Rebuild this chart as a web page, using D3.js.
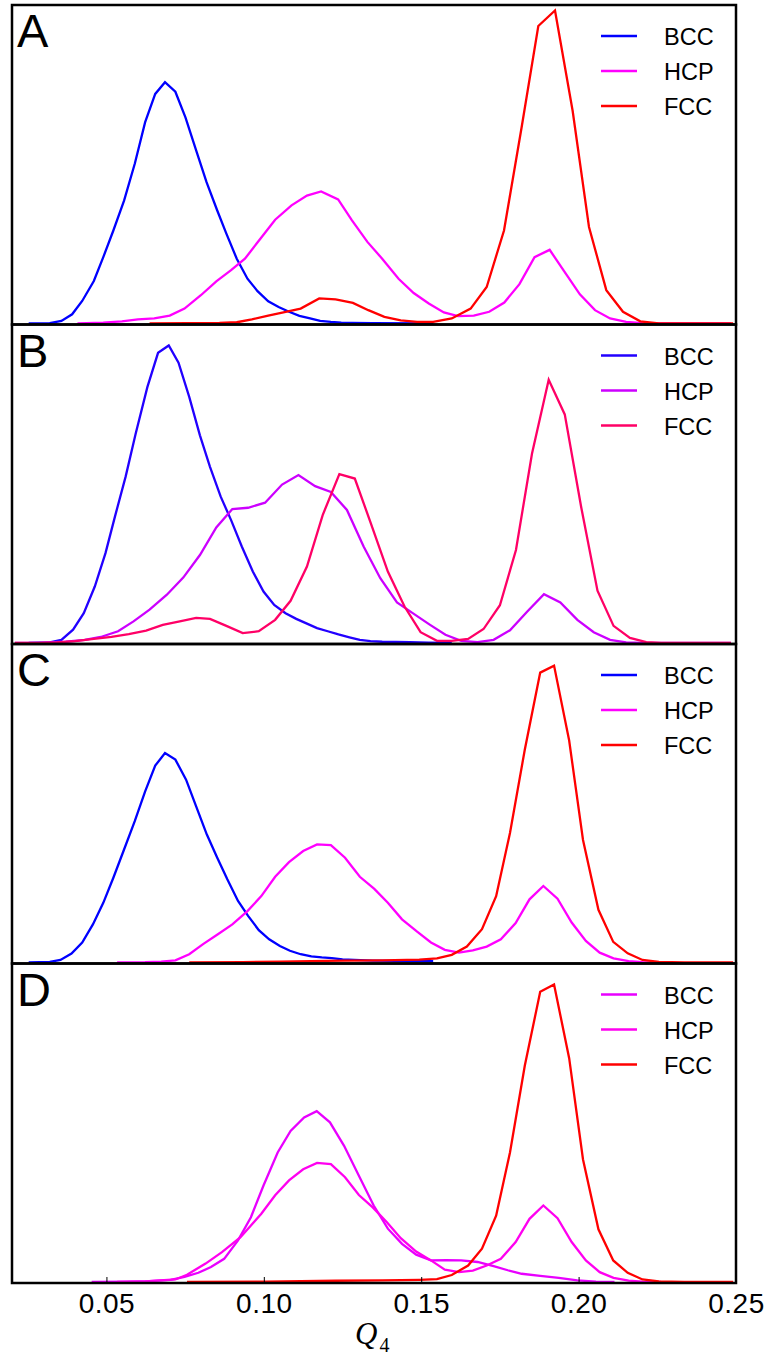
<!DOCTYPE html>
<html>
<head>
<meta charset="utf-8">
<script src="https://cdn.jsdelivr.net/npm/d3@7"></script>
<style>
  body { margin: 0; background: #fff; }
  svg { display: block; }
</style>
</head>
<body>
<script>
// Q4 distributions, heights in % of panel height (no y scale in the original)
const panelLabels = ["A", "B", "C", "D"];
const seriesNames = ["BCC", "HCP", "FCC"];
const xTicks = [0.05, 0.10, 0.15, 0.20, 0.25];

const A_BCC = [[0.0253,0],[0.0320,0.1],[0.0357,0.8],[0.0391,2.9],[0.0423,7.1],[0.0460,13.4],[0.0490,20.9],[0.0522,29.3],[0.0556,38.7],[0.0590,50.3],[0.0623,63.4],[0.0655,72.3],[0.0686,76.0],[0.0719,73.0],[0.0751,64.9],[0.0785,54.5],[0.0818,44.5],[0.0852,35.6],[0.0881,28.3],[0.0914,20.4],[0.0948,14.1],[0.0980,10.2],[0.1014,7.0],[0.1047,5.2],[0.1080,3.7],[0.1113,2.4],[0.1147,1.6],[0.1179,0.8],[0.1213,0.5],[0.1246,0.3],[0.1280,0.2],[0.1346,0.1],[0.1538,0]];
const A_HCP = [[0.0408,0],[0.0490,0.3],[0.0549,0.7],[0.0600,1.3],[0.0652,1.6],[0.0701,2.5],[0.0748,4.7],[0.0800,8.9],[0.0849,13.3],[0.0896,16.8],[0.0940,20.4],[0.0989,26.7],[0.1036,32.7],[0.1088,37.2],[0.1137,40.3],[0.1182,41.6],[0.1236,39.1],[0.1280,32.5],[0.1329,25.7],[0.1376,20.4],[0.1428,14.1],[0.1476,9.6],[0.1524,6.3],[0.1572,3.5],[0.1617,2.3],[0.1667,2.5],[0.1716,3.7],[0.1764,6.6],[0.1812,12.4],[0.1860,20.9],[0.1908,23.2],[0.1956,16.2],[0.2004,9.2],[0.2052,4.2],[0.2100,1.6],[0.2151,0.5],[0.2203,0.1],[0.2262,0],[0.2484,0]];
const A_FCC = [[0.0637,0],[0.0756,0.1],[0.0859,0.2],[0.0914,0.4],[0.0962,1.3],[0.1014,2.5],[0.1066,3.6],[0.1117,4.7],[0.1176,7.9],[0.1228,7.6],[0.1283,6.5],[0.1332,4.2],[0.1383,2.1],[0.1435,1.0],[0.1487,0.5],[0.1538,0.5],[0.1597,1.6],[0.1657,4.7],[0.1708,11.5],[0.1763,29.3],[0.1819,61.8],[0.1872,93.7],[0.1925,98.6],[0.1981,67.0],[0.2033,30.4],[0.2088,10.5],[0.2141,3.7],[0.2196,0.7],[0.2255,0],[0.2321,0],[0.2491,0]];

const B_BCC = [[0.0253,0],[0.0320,0.2],[0.0357,1.0],[0.0394,4.2],[0.0428,9.4],[0.0463,17.8],[0.0497,28.3],[0.0527,39.8],[0.0561,52.4],[0.0593,66.0],[0.0630,80.6],[0.0664,91.4],[0.0698,93.7],[0.0729,88.3],[0.0763,77.5],[0.0797,65.4],[0.0829,55.5],[0.0863,46.1],[0.0896,38.7],[0.0930,30.4],[0.0965,22.5],[0.0999,16.2],[0.1033,12.0],[0.1069,9.4],[0.1103,7.6],[0.1137,6.1],[0.1169,4.7],[0.1203,3.7],[0.1237,2.7],[0.1272,1.8],[0.1305,1.0],[0.1339,0.6],[0.1376,0.4],[0.1464,0.3],[0.1524,0.1],[0.1597,0]];
const B_HCP = [[0.0209,0],[0.0283,0],[0.0371,0.4],[0.0431,1.0],[0.0482,1.9],[0.0537,3.7],[0.0586,6.8],[0.0637,10.5],[0.0692,15.2],[0.0744,20.6],[0.0797,27.7],[0.0849,36.4],[0.0900,42.2],[0.0950,42.6],[0.1004,44.2],[0.1058,49.9],[0.1110,52.9],[0.1163,49.4],[0.1213,47.6],[0.1264,41.9],[0.1317,30.4],[0.1370,20.4],[0.1423,12.8],[0.1473,9.4],[0.1527,5.8],[0.1577,2.6],[0.1627,0.7],[0.1679,0.3],[0.1730,1.0],[0.1782,4.0],[0.1837,9.9],[0.1890,15.4],[0.1942,12.8],[0.1996,7.3],[0.2048,3.4],[0.2100,1.0],[0.2151,0.2],[0.2203,0],[0.2484,0]];
const B_FCC = [[0.0209,0],[0.0283,0],[0.0342,0.2],[0.0401,0.6],[0.0460,1.3],[0.0516,1.9],[0.0571,2.8],[0.0626,3.9],[0.0679,5.7],[0.0733,6.8],[0.0785,7.9],[0.0829,7.6],[0.0881,5.4],[0.0933,3.1],[0.0984,3.7],[0.1036,7.3],[0.1085,13.3],[0.1137,24.1],[0.1187,40.3],[0.1240,53.2],[0.1289,51.8],[0.1340,37.7],[0.1394,22.5],[0.1447,11.5],[0.1498,3.4],[0.1550,0.7],[0.1597,0.7],[0.1649,1.3],[0.1698,4.4],[0.1750,11.9],[0.1801,29.3],[0.1852,59.7],[0.1905,82.9],[0.1956,72.0],[0.2008,42.9],[0.2060,16.5],[0.2111,5.4],[0.2163,1.6],[0.2215,0.3],[0.2262,0],[0.2484,0]];

const C_BCC = [[0.0253,0],[0.0320,0.2],[0.0354,0.8],[0.0389,2.8],[0.0423,6.3],[0.0457,12.0],[0.0490,18.8],[0.0522,26.7],[0.0556,35.6],[0.0590,44.5],[0.0623,53.9],[0.0655,62.0],[0.0686,66.0],[0.0719,63.9],[0.0753,57.6],[0.0785,49.2],[0.0819,40.3],[0.0852,33.0],[0.0884,26.2],[0.0918,19.4],[0.0950,14.7],[0.0984,10.2],[0.1017,7.3],[0.1051,5.2],[0.1083,3.7],[0.1117,2.6],[0.1151,1.9],[0.1184,1.6],[0.1216,1.4],[0.1250,1.0],[0.1287,0.8],[0.1346,0.6],[0.1420,0.5],[0.1538,0.4]];
const C_HCP = [[0.0534,0],[0.0623,0.1],[0.0674,0.3],[0.0719,0.7],[0.0763,2.6],[0.0807,5.8],[0.0854,8.9],[0.0900,12.0],[0.0948,16.2],[0.0992,20.9],[0.1036,27.0],[0.1080,31.6],[0.1125,35.1],[0.1169,37.2],[0.1213,37.0],[0.1258,33.0],[0.1305,27.0],[0.1351,23.2],[0.1394,18.8],[0.1439,13.6],[0.1487,9.7],[0.1531,6.3],[0.1575,4.0],[0.1620,3.1],[0.1664,3.8],[0.1708,5.0],[0.1753,7.3],[0.1800,12.4],[0.1844,19.9],[0.1888,24.1],[0.1933,20.1],[0.1978,12.6],[0.2023,6.8],[0.2067,3.1],[0.2111,1.3],[0.2159,0.4],[0.2203,0.1],[0.2262,0]];
const C_FCC = [[0.0763,0],[0.0933,0.1],[0.1051,0.3],[0.1199,0.5],[0.1258,0.6],[0.1376,0.7],[0.1494,0.9],[0.1550,1.3],[0.1597,2.4],[0.1645,5.0],[0.1693,10.5],[0.1738,20.9],[0.1782,40.8],[0.1829,67.0],[0.1878,91.3],[0.1922,93.5],[0.1970,69.9],[0.2014,38.6],[0.2063,16.6],[0.2110,6.5],[0.2156,2.9],[0.2203,0.8],[0.2255,0.2],[0.2336,0],[0.2491,0]];

const D_BCC = [[0.0453,0],[0.0564,0.1],[0.0637,0.3],[0.0704,0.7],[0.0748,1.6],[0.0792,2.9],[0.0832,4.7],[0.0874,7.3],[0.0918,13.1],[0.0959,20.4],[0.0999,30.4],[0.1044,40.8],[0.1085,47.6],[0.1128,51.8],[0.1168,53.8],[0.1210,50.3],[0.1255,42.9],[0.1302,33.5],[0.1349,24.1],[0.1394,16.8],[0.1439,12.0],[0.1484,8.6],[0.1531,6.8],[0.1580,6.9],[0.1627,6.8],[0.1679,6.3],[0.1730,5.0],[0.1775,3.7],[0.1819,2.6],[0.1878,1.9],[0.1937,1.3],[0.1996,0.5],[0.2055,0.1],[0.2114,0]];
const D_HCP = [[0.0534,0],[0.0623,0.2],[0.0719,0.8],[0.0756,2.3],[0.0815,5.8],[0.0867,9.4],[0.0926,14.1],[0.0992,21.5],[0.1036,27.3],[0.1080,32.0],[0.1125,35.5],[0.1169,37.5],[0.1213,37.1],[0.1258,33.0],[0.1302,27.4],[0.1346,23.5],[0.1391,18.8],[0.1435,13.8],[0.1484,9.6],[0.1531,6.8],[0.1575,3.9],[0.1620,3.1],[0.1664,3.6],[0.1708,5.2],[0.1753,7.3],[0.1800,12.6],[0.1844,19.9],[0.1888,24.1],[0.1933,20.1],[0.1978,12.6],[0.2023,6.8],[0.2067,3.1],[0.2111,1.3],[0.2159,0.4],[0.2203,0.1],[0.2262,0]];
const D_FCC = [[0.0756,0],[0.1007,0.1],[0.1228,0.4],[0.1376,0.5],[0.1494,0.7],[0.1550,0.9],[0.1597,2.2],[0.1649,5.2],[0.1693,10.5],[0.1738,20.9],[0.1782,40.8],[0.1829,68.1],[0.1878,91.4],[0.1922,93.7],[0.1970,70.5],[0.2014,38.6],[0.2063,16.6],[0.2110,6.8],[0.2156,2.9],[0.2203,0.8],[0.2255,0.2],[0.2336,0],[0.2491,0]];

const panelData = [
  [A_BCC, A_HCP, A_FCC],
  [B_BCC, B_HCP, B_FCC],
  [C_BCC, C_HCP, C_FCC],
  [D_BCC, D_HCP, D_FCC]
];
const panelColors = [
  ["#0000ff", "#ff00ff", "#ff0000"],
  ["#2200ff", "#cc00ff", "#ff0066"],
  ["#0000ff", "#ff00ff", "#ff0000"],
  ["#e800ff", "#ff00f0", "#ff0000"]
];

const width = 771;
const height = 1360;
const left = 12, right = 736, top0 = 5, panelH = 319.5;

const svg = d3.select("body")
  .append("svg")
  .attr("width", width)
  .attr("height", height);

const x = d3.scaleLinear().domain([0.02, 0.25]).range([left, right]);

const sans = "'Liberation Sans', Arial, Helvetica, sans-serif";

panelData.forEach((series, i) => {
  const top = top0 + i * panelH;
  const bottom = top + panelH;
  const y = d3.scaleLinear().domain([0, 100]).range([bottom - 1, top + 1]);

  const g = svg.append("g").attr("class", "panel");

  g.append("clipPath")
    .attr("id", "clip" + i)
    .append("rect")
    .attr("x", left)
    .attr("y", top)
    .attr("width", right - left)
    .attr("height", panelH);

  const line = d3.line()
    .x(d => x(d[0]))
    .y(d => y(d[1]));

  g.selectAll("path.series")
    .data(series)
    .enter()
    .append("path")
    .attr("class", "series")
    .attr("clip-path", `url(#clip${i})`)
    .attr("d", line)
    .attr("fill", "none")
    .attr("stroke", (d, j) => panelColors[i][j])
    .attr("stroke-width", 2.3)
    .attr("stroke-linejoin", "miter");

  // legend
  const legend = g.append("g").attr("transform", `translate(0, ${top})`);
  seriesNames.forEach((name, j) => {
    const ly = 31 + j * 35;
    legend.append("line")
      .attr("x1", 601).attr("x2", 637)
      .attr("y1", ly).attr("y2", ly)
      .attr("stroke", panelColors[i][j])
      .attr("stroke-width", 2.3);
    legend.append("text")
      .attr("x", 664)
      .attr("y", ly + 9)
      .attr("font-family", sans)
      .attr("font-size", 23.5)
      .attr("fill", "#000")
      .text(name);
  });

  // panel letter
  g.append("text")
    .attr("x", 17)
    .attr("y", top + 42)
    .attr("font-family", sans)
    .attr("font-size", 47)
    .attr("fill", "#000")
    .text(panelLabels[i]);

  // frame
  g.append("rect")
    .attr("x", left)
    .attr("y", top)
    .attr("width", right - left)
    .attr("height", panelH)
    .attr("fill", "none")
    .attr("stroke", "#000")
    .attr("stroke-width", 2.5);
});

// bottom axis on the last panel
const axisY = top0 + 4 * panelH;
const xAxis = d3.axisBottom(x)
  .tickValues(xTicks)
  .tickFormat(d3.format(".2f"))
  .tickSize(-6)
  .tickPadding(10);

const axisG = svg.append("g")
  .attr("transform", `translate(0, ${axisY})`)
  .call(xAxis);
axisG.select(".domain").remove();
axisG.selectAll(".tick line").attr("stroke", "#000").attr("stroke-width", 1);
axisG.selectAll(".tick text")
  .attr("font-family", sans)
  .attr("font-size", 28)
  .attr("letter-spacing", 0.5)
  .attr("fill", "#000");

// x label Q_4
const xl = svg.append("text")
  .attr("x", 355)
  .attr("y", 1344)
  .attr("font-family", "'Liberation Serif', 'DejaVu Serif', serif")
  .attr("font-size", 31)
  .attr("fill", "#000");
xl.append("tspan").attr("font-style", "italic").text("Q");
xl.append("tspan")
  .attr("dx", 2)
  .attr("dy", 8)
  .attr("font-size", 20)
  .text("4");
</script>
</body>
</html>
